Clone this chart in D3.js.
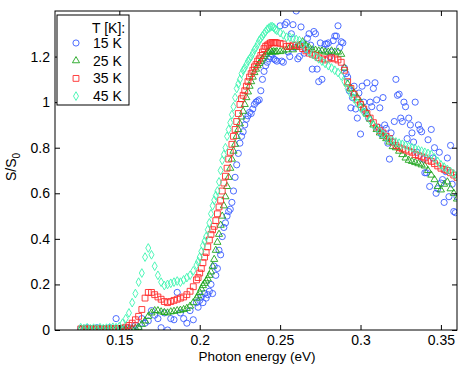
<!DOCTYPE html>
<html>
<head>
<meta charset="utf-8">
<script src="https://cdn.jsdelivr.net/npm/d3@7"></script>
<style>
  html, body { margin: 0; padding: 0; background: #fff; }
  svg { display: block; font-family: "Liberation Sans", Arial, Helvetica, sans-serif; }
</style>
</head>
<body>
<svg id="chart" width="463" height="367"></svg>
<script>
// ---- Data -----------------------------------------------------------------
// photon energy grid (eV): coarse below 0.2, fine on the rising edge, coarse after
var energy = [
  0.126,0.128,0.130,0.132,0.134,0.136,0.138,0.140,0.142,0.144,0.146,0.148,0.150,0.152,0.154,0.156,0.158,0.160,0.162,0.164,0.166,0.168,0.170,0.172,0.174,0.176,0.178,0.180,0.182,0.184,0.186,0.188,0.190,0.192,0.194,0.196,0.198,
  0.199,0.200,0.201,0.202,0.203,0.204,0.205,0.206,0.207,0.208,0.209,0.210,0.211,0.212,0.213,0.214,0.215,0.216,0.217,0.218,0.219,0.220,0.221,0.222,0.223,0.224,0.225,0.226,0.227,0.228,0.229,0.230,0.231,0.232,0.233,0.234,0.235,0.236,0.237,0.238,0.239,0.240,0.241,0.242,0.243,0.244,0.245,0.246,0.247,0.248,
  0.250,0.252,0.254,0.256,0.258,0.260,0.262,0.264,0.266,0.268,0.270,0.272,0.274,0.276,0.278,0.280,0.282,0.284,0.286,0.288,0.290,0.292,0.294,0.296,0.298,0.300,0.302,0.304,0.306,0.308,0.310,0.312,0.314,0.316,0.318,0.320,0.322,0.324,0.326,0.328,0.330,0.332,0.334,0.336,0.338,0.340,0.342,0.344,0.346,0.348,0.350,0.352,0.354,0.356,0.358,0.360
];

// 15 K is noisy, it has extra points between the coarse grid at high energy
var energyMid = [
  0.251,0.253,0.255,0.257,0.259,0.261,0.263,0.265,0.267,0.269,0.271,0.273,0.275,0.277,0.279,0.281,0.283,0.285,0.287,0.289,0.291,0.293,0.295,0.297,0.299,0.301,0.303,0.305,0.307,0.309,0.311,0.313,0.315,0.317,0.319,0.321,0.323,0.325,0.327,0.329,0.331,0.333,0.335,0.337,0.339,0.341,0.343,0.345,0.347,0.349,0.351,0.353,0.355,0.357,0.359
];

var s15 = [
  0.005,0.000,0.010,0.000,0.005,0.010,0.000,0.005,0.000,0.010,0.005,0.050,0.000,0.005,0.000,0.010,0.005,0.020,0.010,0.050,0.030,0.040,0.085,0.065,0.050,0.010,0.075,0.000,0.050,0.045,0.165,0.075,0.050,0.030,0.085,0.045,0.120,
  0.10,0.13,0.145,0.12,0.16,0.14,0.155,0.17,0.20,0.16,0.28,0.24,0.27,0.35,0.33,0.41,0.45,0.47,0.50,0.52,0.53,0.56,0.61,0.67,0.725,0.775,0.82,0.85,0.87,0.90,0.925,0.94,0.955,0.95,0.97,0.99,1.0,1.005,1.01,1.05,1.10,1.135,1.16,1.175,1.19,1.20,1.21,1.19,1.185,1.18,
  1.335,1.175,1.35,1.20,1.34,1.40,1.20,1.25,1.23,1.30,1.145,1.30,1.09,1.10,1.255,1.26,1.22,1.29,1.335,1.265,1.15,1.11,0.975,1.07,0.93,0.86,1.0,1.085,1.0,1.06,1.01,0.975,1.02,0.885,0.75,0.825,1.10,1.035,0.915,0.98,0.93,0.865,1.0,0.90,0.87,0.69,0.835,0.88,0.80,0.62,0.645,0.56,0.755,0.81,0.52,0.585
];
var s15Mid = [
  1.18,1.34,1.22,1.30,1.24,1.19,1.33,1.215,1.28,1.25,1.31,1.145,1.26,1.23,1.255,1.20,1.27,1.29,1.24,1.26,1.125,1.05,1.02,0.97,1.04,1.07,0.96,0.93,0.98,1.085,0.89,0.86,0.90,0.82,0.865,0.915,1.03,0.93,1.0,0.84,0.90,0.825,0.78,0.88,0.75,0.69,0.63,0.755,0.60,0.78,0.66,0.695,0.585,0.64,0.515
];

var s25 = [
  0.003,0.005,0.002,0.004,0.003,0.002,0.004,0.003,0.002,0.004,0.003,0.004,0.003,0.004,0.003,0.004,0.005,0.008,0.012,0.025,0.040,0.060,0.075,0.085,0.085,0.080,0.077,0.075,0.080,0.082,0.085,0.087,0.090,0.095,0.105,0.120,0.140,
  0.15,0.165,0.18,0.195,0.205,0.215,0.225,0.24,0.255,0.28,0.31,0.35,0.385,0.42,0.46,0.50,0.545,0.585,0.63,0.67,0.71,0.75,0.785,0.815,0.85,0.88,0.905,0.935,0.96,0.99,1.02,1.045,1.07,1.09,1.11,1.13,1.145,1.16,1.17,1.18,1.19,1.20,1.21,1.22,1.22,1.225,1.22,1.222,1.22,1.222,
  1.222,1.225,1.23,1.24,1.23,1.24,1.25,1.265,1.25,1.24,1.23,1.228,1.225,1.225,1.22,1.22,1.225,1.22,1.22,1.21,1.15,1.08,1.06,1.04,1.02,1.0,0.975,0.95,0.925,0.90,0.88,0.865,0.85,0.84,0.825,0.805,0.80,0.785,0.77,0.755,0.745,0.74,0.735,0.73,0.725,0.72,0.70,0.68,0.66,0.63,0.615,0.64,0.65,0.62,0.60,0.575
];

var s35 = [
  0.005,0.004,0.006,0.005,0.004,0.006,0.005,0.004,0.006,0.005,0.006,0.005,0.006,0.008,0.012,0.020,0.030,0.045,0.060,0.090,0.140,0.165,0.165,0.155,0.145,0.135,0.125,0.120,0.125,0.130,0.135,0.140,0.145,0.155,0.170,0.190,0.220,
  0.23,0.25,0.27,0.295,0.32,0.34,0.365,0.395,0.42,0.44,0.455,0.48,0.51,0.54,0.57,0.61,0.645,0.675,0.71,0.75,0.78,0.815,0.85,0.88,0.915,0.95,0.99,1.015,1.03,1.05,1.07,1.09,1.11,1.125,1.14,1.155,1.165,1.18,1.19,1.205,1.22,1.235,1.245,1.25,1.255,1.26,1.262,1.26,1.262,1.26,
  1.258,1.255,1.245,1.245,1.25,1.25,1.245,1.235,1.225,1.215,1.21,1.205,1.195,1.19,1.185,1.19,1.195,1.19,1.185,1.175,1.14,1.09,1.06,1.035,1.01,0.99,0.97,0.95,0.93,0.91,0.89,0.875,0.865,0.85,0.84,0.825,0.81,0.80,0.795,0.79,0.785,0.78,0.77,0.765,0.76,0.755,0.745,0.74,0.73,0.72,0.71,0.705,0.70,0.69,0.68,0.67
];

var s45 = [
  0.010,0.005,0.010,0.005,0.008,0.005,0.010,0.006,0.008,0.010,0.012,0.010,0.015,0.030,0.050,0.075,0.120,0.160,0.210,0.250,0.320,0.360,0.330,0.280,0.240,0.210,0.195,0.200,0.205,0.210,0.215,0.210,0.220,0.230,0.240,0.260,0.285,
  0.30,0.32,0.345,0.37,0.39,0.41,0.44,0.47,0.51,0.545,0.57,0.59,0.61,0.65,0.70,0.745,0.77,0.80,0.85,0.88,0.91,0.945,0.98,1.02,1.06,1.08,1.10,1.125,1.14,1.15,1.165,1.18,1.19,1.20,1.215,1.23,1.24,1.255,1.27,1.28,1.29,1.30,1.31,1.32,1.325,1.33,1.332,1.328,1.32,1.315,
  1.305,1.295,1.285,1.285,1.28,1.275,1.27,1.255,1.235,1.22,1.21,1.20,1.19,1.18,1.17,1.16,1.15,1.14,1.13,1.115,1.09,1.06,1.035,1.015,0.995,0.975,0.955,0.94,0.92,0.90,0.885,0.87,0.86,0.845,0.835,0.83,0.825,0.82,0.815,0.81,0.805,0.80,0.795,0.79,0.785,0.78,0.775,0.77,0.755,0.74,0.725,0.715,0.705,0.695,0.685,0.675
];

var seriesLabels = ['15 K', '25 K', '35 K', '45 K'];
var xTicks = [0.15, 0.2, 0.25, 0.3, 0.35];
var yTicks = [0, 0.2, 0.4, 0.6, 0.8, 1, 1.2];

// ---- Layout / style ------------------------------------------------------
var M = { left: 55, top: 11, right: 457, bottom: 330 };
var FONT = '14px';
var COLORS = ['#3a5cff', '#1ea51e', '#ff2a2a', '#3cf5b0'];
var SYMBOLS = [
  d3.symbol().type(d3.symbolCircle).size(30),
  d3.symbol().type(d3.symbolTriangle).size(22),
  d3.symbol().type(d3.symbolSquare).size(34),
  d3.symbol().type(d3.symbolDiamond).size(22)
];

function pairs(xs, ys) {
  var out = [];
  for (var i = 0; i < xs.length && i < ys.length; i++) out.push([xs[i], ys[i]]);
  return out;
}

var series = [
  pairs(energy, s15).concat(pairs(energyMid, s15Mid)),
  pairs(energy, s25),
  pairs(energy, s35),
  pairs(energy, s45)
];

var svg = d3.select('#chart');
var x = d3.scaleLinear().domain([0.11, 0.36]).range([M.left, M.right]);
var y = d3.scaleLinear().domain([0, 1.4]).range([M.bottom, M.top]);

svg.append('defs').append('clipPath').attr('id', 'plotclip')
  .append('rect')
  .attr('x', M.left).attr('y', M.top)
  .attr('width', M.right - M.left).attr('height', M.bottom - M.top);

// ---- Markers ---------------------------------------------------------------
var marks = svg.append('g').attr('clip-path', 'url(#plotclip)');
series.forEach(function(pts, k) {
  marks.append('g').selectAll('path')
    .data(pts)
    .join('path')
    .attr('d', SYMBOLS[k])
    .attr('transform', function(d) { return 'translate(' + x(d[0]) + ',' + y(d[1]) + ')'; })
    .attr('fill', 'none')
    .attr('stroke', COLORS[k])
    .attr('stroke-width', 0.9);
});

// ---- Axes (ticks inside, MATLAB style) ---------------------------------
function styleAxis(g) {
  g.select('.domain').remove();
  g.selectAll('.tick line').attr('stroke', '#000');
  g.selectAll('.tick text').attr('fill', '#000')
    .style('font-size', FONT)
    .style('font-family', '"Liberation Sans", Arial, sans-serif');
}

svg.append('g').attr('transform', 'translate(0,' + M.bottom + ')')
  .call(d3.axisBottom(x).tickValues(xTicks).tickFormat(String).tickSizeInner(-5).tickSizeOuter(0).tickPadding(5))
  .call(styleAxis);
svg.append('g').attr('transform', 'translate(0,' + M.top + ')')
  .call(d3.axisTop(x).tickValues(xTicks).tickFormat('').tickSizeInner(-5).tickSizeOuter(0))
  .call(styleAxis);
svg.append('g').attr('transform', 'translate(' + M.left + ',0)')
  .call(d3.axisLeft(y).tickValues(yTicks).tickFormat(String).tickSizeInner(-5).tickSizeOuter(0).tickPadding(5))
  .call(styleAxis);
svg.append('g').attr('transform', 'translate(' + M.right + ',0)')
  .call(d3.axisRight(y).tickValues(yTicks).tickFormat('').tickSizeInner(-5).tickSizeOuter(0))
  .call(styleAxis);

svg.append('rect')
  .attr('x', M.left).attr('y', M.top)
  .attr('width', M.right - M.left).attr('height', M.bottom - M.top)
  .attr('fill', 'none').attr('stroke', '#000').attr('stroke-width', 1);

// ---- Axis labels ---------------------------------------------------------
svg.append('text')
  .attr('x', 257).attr('y', 361)
  .attr('text-anchor', 'middle')
  .style('font-size', '13.5px')
  .text('Photon energy (eV)');

var yl = svg.append('text')
  .attr('transform', 'translate(16,167) rotate(-90)')
  .attr('text-anchor', 'middle')
  .style('font-size', FONT);
yl.append('tspan').text('S/S');
yl.append('tspan').attr('dy', 4).style('font-size', '10px').text('0');

// ---- Legend --------------------------------------------------------------
var lg = svg.append('g');
lg.append('rect')
  .attr('x', 57).attr('y', 15).attr('width', 72).attr('height', 90)
  .attr('fill', '#fff').attr('stroke', '#000').attr('stroke-width', 1);
lg.append('text').attr('x', 92).attr('y', 33).style('font-size', FONT).text('T [K]:');
seriesLabels.forEach(function(lab, k) {
  var cy = 43 + k * 17.7;
  lg.append('path')
    .attr('d', SYMBOLS[k])
    .attr('transform', 'translate(76,' + cy + ')')
    .attr('fill', 'none').attr('stroke', COLORS[k]).attr('stroke-width', 0.9);
  lg.append('text').attr('x', 93).attr('y', cy + 5).style('font-size', FONT).text(lab);
});
</script>
</body>
</html>
